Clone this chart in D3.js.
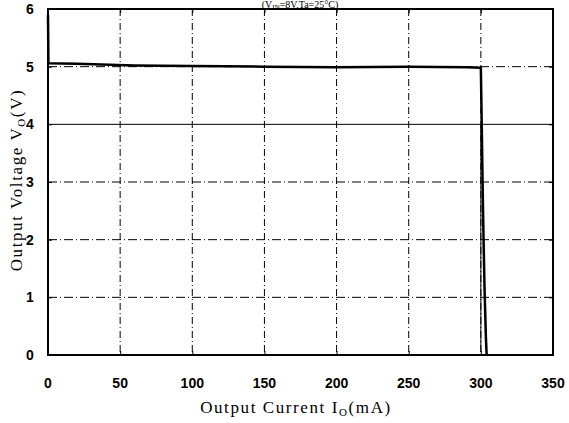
<!DOCTYPE html>
<html>
<head>
<meta charset="utf-8">
<script src="https://cdn.jsdelivr.net/npm/d3@7"></script>
<style>
  body { margin: 0; background: #fff; }
  svg { display: block; }
</style>
</head>
<body>
<svg id="chart" width="569" height="423"></svg>
<script>
// values
const xTicks = [0, 50, 100, 150, 200, 250, 300, 350];
const yTicks = [0, 1, 2, 3, 4, 5, 6];
const curveI = [0, 0.3, 20, 60, 100, 150, 200, 250, 290, 300, 300.6, 301.5, 302.5, 303.5, 304];
const curveV = [5.9, 5.06, 5.05, 5.02, 5.01, 5.0, 4.99, 5.0, 4.99, 4.98, 4.0, 2.5, 1.2, 0.3, 0];
const traceI = [300, 300];
const traceV = [4.0, 0.05];

const svg = d3.select('#chart');
const margin = { top: 9, right: 16, bottom: 68, left: 48 };
const width = 569 - margin.left - margin.right;
const height = 423 - margin.top - margin.bottom;

const x = d3.scaleLinear().domain([0, 350]).range([0, width]);
const y = d3.scaleLinear().domain([0, 6]).range([height, 0]);

const g = svg.append('g').attr('transform', `translate(${margin.left},${margin.top})`);

// grid
g.selectAll('.vgrid')
  .data(xTicks.slice(1, -1))
  .enter()
  .append('line')
  .attr('x1', d => x(d)).attr('x2', d => x(d))
  .attr('y1', 0).attr('y2', height)
  .attr('stroke', '#000').attr('stroke-width', 1)
  .attr('stroke-dasharray', '7,3,1,3');

g.selectAll('.hgrid')
  .data(yTicks.slice(1, -1))
  .enter()
  .append('line')
  .attr('x1', 0).attr('x2', width)
  .attr('y1', d => y(d)).attr('y2', d => y(d))
  .attr('stroke', '#000').attr('stroke-width', 1)
  .attr('stroke-dasharray', d => d === 4 ? null : '9,3,1,3');

// inner ticks on all four sides
g.append('g').attr('transform', `translate(0,${height})`)
  .call(d3.axisBottom(x).tickValues(xTicks).tickSize(-4).tickFormat(''));
g.append('g')
  .call(d3.axisTop(x).tickValues(xTicks).tickSize(-4).tickFormat(''));
g.append('g')
  .call(d3.axisLeft(y).tickValues(yTicks).tickSize(-4).tickFormat(''));
g.append('g').attr('transform', `translate(${width},0)`)
  .call(d3.axisRight(y).tickValues(yTicks).tickSize(-4).tickFormat(''));
g.selectAll('.domain').remove();
g.selectAll('.tick line').attr('stroke', '#000');

// frame
g.append('rect')
  .attr('width', width).attr('height', height)
  .attr('fill', 'none').attr('stroke', '#000').attr('stroke-width', 2);

// curves
const line = d3.line().x(d => x(d[0])).y(d => y(d[1]));
g.append('path')
  .datum(traceI.map((v, i) => [v, traceV[i]]))
  .attr('fill', 'none').attr('stroke', '#000').attr('stroke-width', 1)
  .attr('d', line);
g.append('path')
  .datum(curveI.map((v, i) => [v, curveV[i]]))
  .attr('fill', 'none').attr('stroke', '#000').attr('stroke-width', 2.5)
  .attr('d', line);

// tick labels
svg.append('g').selectAll('text')
  .data(xTicks)
  .enter()
  .append('text')
  .attr('x', d => margin.left + x(d))
  .attr('y', 388)
  .attr('text-anchor', 'middle')
  .style('font', 'bold 14px "Liberation Sans", Arial, sans-serif')
  .text(d => d);

svg.append('g').selectAll('text')
  .data(yTicks)
  .enter()
  .append('text')
  .attr('x', 30)
  .attr('y', d => margin.top + y(d) + 5)
  .attr('text-anchor', 'middle')
  .style('font', 'bold 14px "Liberation Sans", Arial, sans-serif')
  .text(d => d);

// axis titles
const titleFont = '17px "Liberation Serif", "Times New Roman", serif';
const xt = svg.append('text')
  .attr('x', 296).attr('y', 413)
  .attr('text-anchor', 'middle')
  .style('font', titleFont)
  .style('letter-spacing', '1.6px');
xt.append('tspan').text('Output Current I');
xt.append('tspan').attr('dy', 3).style('font-size', '11px').text('O');
xt.append('tspan').attr('dy', -3).text('(mA)');

const yt = svg.append('text')
  .attr('transform', 'translate(22,180) rotate(-90)')
  .attr('text-anchor', 'middle')
  .style('font', titleFont)
  .style('letter-spacing', '1.6px');
yt.append('tspan').text('Output Voltage V');
yt.append('tspan').attr('dy', 3).style('font-size', '11px').text('O');
yt.append('tspan').attr('dy', -3).text('(V)');

// title above the frame
const tt = svg.append('text')
  .attr('x', 300).attr('y', 8)
  .attr('text-anchor', 'middle')
  .style('font', '10px "Liberation Serif", "Times New Roman", serif');
tt.append('tspan').text('(V');
tt.append('tspan').attr('dy', 1).style('font-size', '7px').text('IN');
tt.append('tspan').attr('dy', -1).text('=8V,Ta=25°C)');
</script>
</body>
</html>
